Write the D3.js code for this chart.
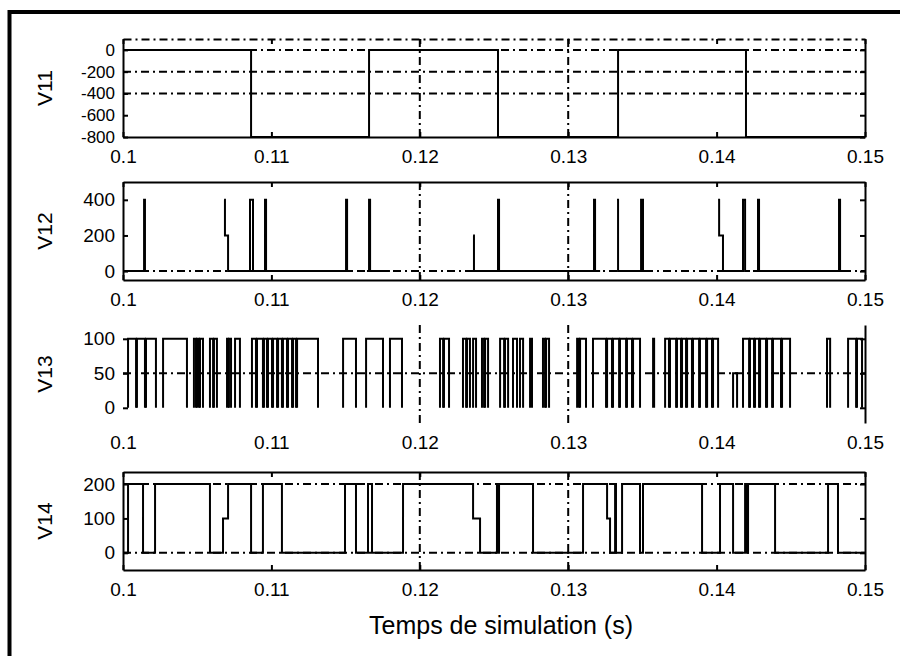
<!DOCTYPE html>
<html>
<head>
<meta charset="utf-8">
<script src="https://cdn.jsdelivr.net/npm/d3@7"></script>
<style>
  body { margin: 0; background: white; }
  text { font-family: "Liberation Sans", Arial, sans-serif; fill: black; }
</style>
</head>
<body>
<div id="container"></div>
<script>
let w = 900;
let h = 656;
let left = 123;
let right = 865;

// x axis (seconds)
let xDomain = [0.1, 0.15];
let xTicks = [0.1, 0.11, 0.12, 0.13, 0.14, 0.15];
let xTickLabels = ["0.1", "0.11", "0.12", "0.13", "0.14", "0.15"];
let xGrid = [0.12, 0.13];
let xTitle = "Temps de simulation (s)";

// one entry per subplot
let panelNames = ["V11", "V12", "V13", "V14"];
let yDomains = [[-800, 100], [-50, 500], [-22, 120], [-50, 235]];
let yTicks = [[0, -200, -400, -600, -800], [0, 200, 400], [0, 50, 100], [0, 100, 200]];
let yTickLabels = [["0", "-200", "-400", "-600", "-800"], ["0", "200", "400"], ["0", "50", "100"], ["0", "100", "200"]];
let yGrid = [[0, -200, -400], [0], [50], [0, 200]];

// V11 : level holds from each time to the next one
let v11Times = [0.1, 0.10863, 0.11658, 0.12527, 0.13336, 0.14198];
let v11Levels = [0, -800, 0, -800, 0, -800];

// V12 (null = trace lost in the scan)
let v12Times = [0.1, 0.10142, 0.10148, 0.10162, 0.10681, 0.10687, 0.10708, 0.10856, 0.10876, 0.10957,
  0.10964, 0.11503, 0.11510, 0.11543, 0.11644, 0.11658, 0.11665, 0.11799, 0.12359, 0.12365,
  0.12527, 0.12534, 0.12554, 0.12588, 0.13174, 0.13181, 0.13215, 0.13329, 0.13336, 0.13491,
  0.13504, 0.13524, 0.14010, 0.14017, 0.14043, 0.14178, 0.14192, 0.14225, 0.14266, 0.14279,
  0.14286, 0.14825, 0.14832, 0.14866];
let v12Levels = [0, 400, 0, null, 400, 200, 0, 400, 0, 400,
  0, 400, 0, null, 0, 400, 0, null, 200, 0,
  400, 0, null, 0, 400, 0, null, 400, 0, 400,
  0, null, 400, 200, 0, 400, 0, null, 0, 400,
  0, 400, 0, null];

// V13 : pulses above 0
let v13Start = [0.10034, 0.10094, 0.10155, 0.10270, 0.10478, 0.10499, 0.10519, 0.10586, 0.10613, 0.10701,
  0.10714, 0.10755, 0.10869, 0.10903, 0.10950, 0.10977, 0.11011, 0.11045, 0.11078, 0.11112,
  0.11146, 0.11173, 0.11483, 0.11638, 0.11799, 0.12136, 0.12163, 0.12291, 0.12318, 0.12359,
  0.12419, 0.12440, 0.12541, 0.12574, 0.12628, 0.12675, 0.12743, 0.12830, 0.12851, 0.13060,
  0.13080, 0.13167, 0.13262, 0.13302, 0.13349, 0.13396, 0.13437, 0.13572, 0.13653, 0.13686,
  0.13733, 0.13767, 0.13801, 0.13841, 0.13888, 0.13936, 0.13976, 0.14111, 0.14178, 0.14225,
  0.14259, 0.14293, 0.14340, 0.14380, 0.14441, 0.14744, 0.14886, 0.14946];
let v13End = [0.10088, 0.10148, 0.10222, 0.10431, 0.10492, 0.10512, 0.10539, 0.10607, 0.10633, 0.10708,
  0.10728, 0.10788, 0.10896, 0.10943, 0.10970, 0.11004, 0.11038, 0.11071, 0.11105, 0.11139,
  0.11166, 0.11314, 0.11570, 0.11752, 0.11880, 0.12157, 0.12197, 0.12312, 0.12338, 0.12379,
  0.12433, 0.12460, 0.12568, 0.12595, 0.12655, 0.12696, 0.12756, 0.12844, 0.12871, 0.13073,
  0.13120, 0.13255, 0.13295, 0.13343, 0.13390, 0.13430, 0.13484, 0.13579, 0.13679, 0.13727,
  0.13760, 0.13794, 0.13834, 0.13882, 0.13929, 0.13969, 0.14010, 0.14138, 0.14219, 0.14252,
  0.14286, 0.14333, 0.14374, 0.14434, 0.14495, 0.14765, 0.14940, 0.14980];
let v13Levels = [100, 100, 100, 100, 100, 100, 100, 100, 100, 100,
  100, 100, 100, 100, 100, 100, 100, 100, 100, 100,
  100, 100, 100, 100, 100, 100, 100, 100, 100, 100,
  100, 100, 100, 100, 100, 100, 100, 100, 100, 100,
  100, 100, 100, 100, 100, 100, 100, 100, 100, 100,
  100, 100, 100, 100, 100, 100, 100, 50, 100, 100,
  100, 100, 100, 100, 100, 100, 100, 100];

// V14
let v14Times = [0.1, 0.10034, 0.10135, 0.10216, 0.10586, 0.10674, 0.10708, 0.10863, 0.10943, 0.11071,
  0.11496, 0.11570, 0.11651, 0.11678, 0.11887, 0.12359, 0.12406, 0.12520, 0.12527, 0.12534,
  0.12763, 0.13100, 0.13262, 0.13282, 0.13316, 0.13322, 0.13363, 0.13484, 0.13504, 0.13902,
  0.14023, 0.14111, 0.14192, 0.14205, 0.14212, 0.14394, 0.14751, 0.14818];
let v14Levels = [0, 200, 0, 200, 0, 100, 200, 0, 200, 0,
  200, 0, 200, 0, 200, 100, 0, 200, 0, 200,
  0, 200, 100, 0, 200, 0, 200, 0, 200, 0,
  200, 0, 200, 0, 200, 0, 200, 0];

let panelTops = [39, 182, 325, 472];
let panelH = 98;
let dashDot = "8,4,2,4";

let svg = d3.select("#container")
  .append("svg")
  .attr("width", w)
  .attr("height", h)
  .style("background-color", "white");

// outer frame
svg.append("rect")
  .attr("x", 9.5)
  .attr("y", 12)
  .attr("width", 1000)
  .attr("height", 1000)
  .attr("fill", "none")
  .attr("stroke", "black")
  .attr("stroke-width", 4);

let x = d3.scaleLinear().domain(xDomain).range([left, right]);

function stepPoints(times, levels) {
  let pts = [];
  for (let k = 0; k < times.length; k++) {
    let t1 = k < times.length - 1 ? times[k + 1] : xDomain[1];
    pts.push({ t: times[k], v: levels[k] });
    pts.push({ t: t1, v: levels[k] });
  }
  return pts;
}

let series = [
  stepPoints(v11Times, v11Levels),
  stepPoints(v12Times, v12Levels),
  null,
  stepPoints(v14Times, v14Levels)
];

panelNames.forEach(function(name, i) {
  let top = panelTops[i];
  let bottom = top + panelH;
  let y = d3.scaleLinear().domain(yDomains[i]).range([bottom, top]);
  let g = svg.append("g");

  // grid
  xGrid.forEach(function(t) {
    g.append("line")
      .attr("x1", x(t)).attr("x2", x(t))
      .attr("y1", top).attr("y2", bottom)
      .attr("stroke", "black")
      .attr("stroke-width", 2)
      .attr("stroke-dasharray", dashDot);
  });
  yGrid[i].forEach(function(v) {
    g.append("line")
      .attr("x1", left).attr("x2", right)
      .attr("y1", y(v)).attr("y2", y(v))
      .attr("stroke", "black")
      .attr("stroke-width", 2)
      .attr("stroke-dasharray", dashDot);
  });

  // signal
  let line = d3.line()
    .defined(d => d.v !== null)
    .x(d => x(d.t))
    .y(d => y(d.v));

  if (series[i]) {
    g.append("path")
      .attr("d", line(series[i]))
      .attr("fill", "none")
      .attr("stroke", "black")
      .attr("stroke-width", 2);
  } else {
    v13Start.forEach(function(s, k) {
      let pulse = [
        { t: s, v: 0 }, { t: s, v: v13Levels[k] },
        { t: v13End[k], v: v13Levels[k] }, { t: v13End[k], v: 0 }
      ];
      g.append("path")
        .attr("d", line(pulse))
        .attr("fill", "none")
        .attr("stroke", "black")
        .attr("stroke-width", 2);
    });
  }

  // axes
  let leftAxis = d3.axisLeft(y)
    .tickValues(yTicks[i])
    .tickFormat((d, j) => yTickLabels[i][j])
    .tickSizeInner(-5)
    .tickSizeOuter(0)
    .tickPadding(8);
  let bottomAxis = d3.axisBottom(x)
    .tickValues(xTicks)
    .tickFormat((d, j) => xTickLabels[j])
    .tickSizeInner(-5)
    .tickSizeOuter(0)
    .tickPadding(13);
  let rightAxis = d3.axisRight(y).tickValues(yTicks[i]).tickFormat("").tickSizeInner(-5).tickSizeOuter(0);
  let topAxis = d3.axisTop(x).tickValues(xTicks).tickFormat("").tickSizeInner(-5).tickSizeOuter(0);

  let gl = g.append("g").attr("transform", "translate(" + left + ",0)").call(leftAxis);
  let gb = g.append("g").attr("transform", "translate(0," + bottom + ")").call(bottomAxis);
  let gr = g.append("g").attr("transform", "translate(" + right + ",0)").call(rightAxis);
  let gt = g.append("g").attr("transform", "translate(0," + top + ")").call(topAxis);

  g.selectAll(".tick text").style("font-size", i == 0 ? "17px" : "19px").style("font-family", "'Liberation Sans', Arial, sans-serif");
  gb.selectAll(".tick text").style("font-size", "19px");
  g.selectAll(".domain, .tick line").attr("stroke", "black").attr("stroke-width", 2);

  if (i == 0) {
    gt.select(".domain").attr("stroke-dasharray", dashDot);
  }
  if (i == 2) {
    gl.select(".domain").remove();
    gb.select(".domain").remove();
    gb.selectAll(".tick line").remove();
    gt.remove();
  }

  // y label
  g.append("text")
    .text(name)
    .attr("transform", "translate(52," + (top + panelH / 2) + ") rotate(-90)")
    .attr("text-anchor", "middle")
    .style("font-size", "21px");
});

svg.append("text")
  .text(xTitle)
  .attr("x", 501)
  .attr("y", 634)
  .attr("text-anchor", "middle")
  .style("font-size", "25px");
</script>
</body>
</html>
